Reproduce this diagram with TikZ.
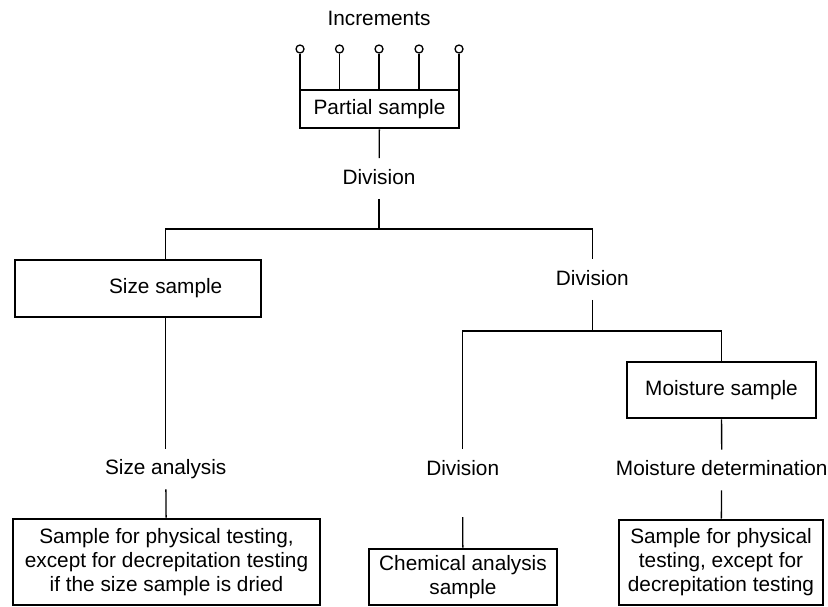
\documentclass[tikz,border=0pt]{standalone}
\usepackage{fontspec}
\setmainfont{Liberation Sans}
\usetikzlibrary{positioning}
\begin{document}
\begin{tikzpicture}[x=0.5pt, y=-0.5pt,
        font=\fontsize{10.4pt}{12pt}\selectfont,
        sample/.style={rectangle, draw=black, line width=1.3pt, inner sep=0pt, align=center},
        step_label/.style={inner sep=0pt, minimum height=20pt, text height=7.5pt, text depth=2pt},
        increment/.style={circle, draw=black, line width=0.65pt, fill=white, inner sep=0pt, minimum size=4pt},
        link/.style={line width=0.65pt},]
        \useasboundingbox (0,0) rectangle (828,606);

        % Increments
        \node (incr) at (379,18) {Increments};
        \node[sample, minimum width=79.5pt, minimum height=19pt] (psample) at (379.5,109) {Partial sample};
        \foreach \x [count=\i] in {300,339.5,379,419,459} {
            \node[increment] (inc\i) at (\x,49) {};
            \draw[link] (inc\i) -- (inc\i |- psample.north);
        }

        % Samples
        \node[sample, minimum width=123pt, minimum height=28.5pt] (sizebox) at (138,288.5) {};
        \node (sizetxt) at (165.7,288.5) {Size sample};
        \node[sample, minimum width=94.5pt, minimum height=28pt] (moist) at (721.5,390) {Moisture sample};
        \node[sample, minimum width=153.5pt, minimum height=43pt] (phys1) at (166.5,562) {Sample for physical testing,\\except for decrepitation testing\\if the size sample is dried};
        \node[sample, minimum width=94pt, minimum height=28pt] (chem) at (463,577) {Chemical analysis\\sample};
        \node[sample, minimum width=102pt, minimum height=42.5pt] (phys2) at (721,562.5) {Sample for physical\\testing, except for\\decrepitation testing};

        % Steps
        \node[step_label] (div1) at (379,178.5) {Division};
        \node[step_label] (div2) at (592.3,279.5) {Division};
        \node[step_label] (div3) at (462.7,469.5) {Division};
        \node[step_label] (sizean) at (165.7,469) {Size analysis};
        \node[step_label] (mdet) at (721.7,470) {Moisture determination};

        % Junctions
        \coordinate (j1) at (379,229);
        \coordinate (j2) at (592.3,331);
        \coordinate (c3) at (462.7,517);

        % Links
        \draw[link] (psample) -- (div1);
        \draw[link] (div1) -- (j1);
        \draw[link] (sizetxt |- sizebox.north) |- (j1) -| (div2);
        \draw[link] (div2) -- (j2);
        \draw[link] (div3) |- (j2) -| (moist);
        \draw[link] (c3) -- (chem);
        \draw[link] (moist) -- (mdet);
        \draw[link] (mdet) -- (phys2);
        \draw[link] (sizebox.south -| sizetxt) -- (sizean);
        \draw[link] (sizean) -- (phys1);
    \end{tikzpicture}
\end{document}
